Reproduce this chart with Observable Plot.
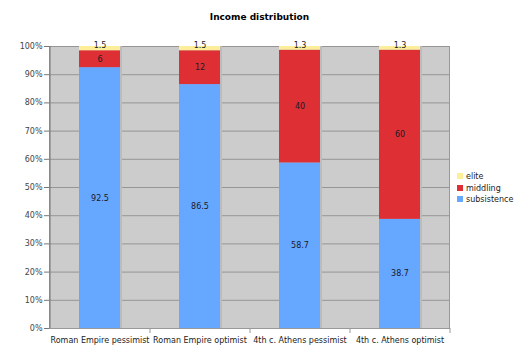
<!DOCTYPE html>
<html>
<head>
<meta charset="utf-8">
<script src="https://cdn.jsdelivr.net/npm/d3@7"></script>
<script src="https://cdn.jsdelivr.net/npm/@observablehq/plot@0.6"></script>
<style>
  html, body { margin: 0; padding: 0; background: #fff; }
  #wrap { position: relative; width: 519px; height: 355px; font-family: "DejaVu Sans", Verdana, sans-serif; }
  #title { position: absolute; left: 0; width: 519px; top: 12px; text-align: center; font-weight: bold; font-size: 9px; color: #000; }
  #legend { position: absolute; left: 457px; top: 171px; font-size: 8px; color: #222; line-height: 11.5px; }
  #legend .sw { display: inline-block; width: 6px; height: 6px; margin-right: 3px; vertical-align: -0px; }
  svg { display: block; }
</style>
</head>
<body>
<div id="wrap">
  <div id="chart"></div>
  <div id="title">Income distribution</div>
  <div id="legend"></div>
</div>
<script>
const categories = ["Roman Empire pessimist", "Roman Empire optimist", "4th c. Athens pessimist", "4th c. Athens optimist"];
const seriesNames = ["subsistence", "middling", "elite"];
const subsistence = [92.5, 86.5, 58.7, 38.7];
const middling = [6, 12, 40, 60];
const elite = [1.5, 1.5, 1.3, 1.3];
const yTicks = [0, 10, 20, 30, 40, 50, 60, 70, 80, 90, 100];
const colors = ["#66a8ff", "#de3034", "#ffee99"];

const seriesValues = {subsistence, middling, elite};
const data = [];
seriesNames.forEach(s => categories.forEach((c, i) => data.push({category: c, series: s, value: seriesValues[s][i]})));

const stackOpts = {x: "category", y: "value", z: "series", order: seriesNames};

const plot = Plot.plot({
  width: 519,
  height: 355,
  marginLeft: 49,
  marginRight: 70,
  marginTop: 46,
  marginBottom: 27,
  style: {fontFamily: "DejaVu Sans, Verdana, sans-serif", fontSize: "8px", color: "#333", background: "#fff"},
  x: {domain: categories, paddingInner: 0.59, paddingOuter: 0.295, label: null},
  y: {domain: [0, 100], label: null},
  color: {domain: seriesNames, range: colors},
  marks: [
    Plot.frame({fill: "#cccccc", stroke: "#999"}),
    Plot.gridY(yTicks, {stroke: "#959595", strokeOpacity: 1}),
    Plot.rectY(data, Plot.stackY({...stackOpts, fill: "#bcbcbc", dx: 2})),
    Plot.rectY(data, Plot.stackY({...stackOpts, fill: "series"})),
    Plot.text(data.filter(d => d.series !== "elite"), Plot.stackY({...stackOpts, text: d => String(d.value), fill: "#1a1a2a"})),
    Plot.text(data, Plot.stackY2({...stackOpts, text: d => d.series === "elite" ? String(d.value) : "", lineAnchor: "bottom", dy: 1, fill: "#222"})),
    Plot.axisY({ticks: yTicks, tickFormat: d => d + "%", tickSize: 5, tickPadding: 2, stroke: "#777", fill: "#444"}),
    Plot.ruleX([0], {x: () => categories[0], dx: -50, stroke: "#777", y1: 0, y2: 100}),
    Plot.axisX({tickSize: 0, tickPadding: 9, fill: "#222"}),
    Plot.axisX({tickSize: 5, tickFormat: () => "", dx: 50, stroke: "#999"}),
    Plot.ruleY([0], {stroke: "#999"})
  ]
});
document.getElementById("chart").appendChild(plot);

const legend = document.getElementById("legend");
seriesNames.slice().reverse().forEach(s => {
  const idx = seriesNames.indexOf(s);
  const row = document.createElement("div");
  row.innerHTML = `<span class="sw" style="background:${colors[idx]}"></span>${s}`;
  legend.appendChild(row);
});
</script>
</body>
</html>
